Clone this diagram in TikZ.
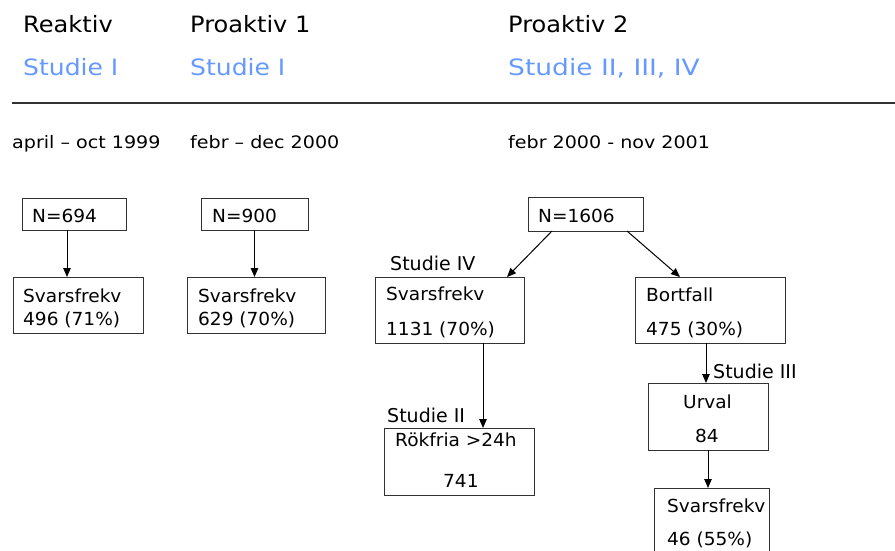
\documentclass[tikz,border=0pt]{standalone}
\usepackage{fontspec}
\usepackage{graphicx}
\setmainfont{DejaVu Sans}
\newfontfamily\stfont[FakeStretch=1.03]{DejaVu Sans}
\newfontfamily\hdfont[FakeStretch=1.07]{DejaVu Sans}
\newfontfamily\dtfont[FakeStretch=1.11]{DejaVu Sans}
\usetikzlibrary{arrows.meta,calc}
\definecolor{studblue}{RGB}{102,153,255}
\definecolor{linegray}{RGB}{50,50,50}
\begin{document}
\begin{tikzpicture}[x=1pt,y=-1pt,
  hdr/.style={anchor=base west,inner sep=0,font=\hdfont\fontsize{22.5}{26}\selectfont},
  hdrblue/.style={hdr,text=studblue},
  datetxt/.style={anchor=base west,inner sep=0,font=\dtfont\fontsize{17.2}{19}\selectfont},
  txt/.style={anchor=base west,inner sep=0,font=\stfont\fontsize{18}{20}\selectfont},
  lbl/.style={anchor=base west,inner sep=0,font=\fontsize{19}{21}\selectfont},
  box/.style={draw=linegray,line width=1pt,rectangle,inner sep=0,outer sep=0},
  arr/.style={draw=black,line width=1pt,-{Triangle[length=9pt,width=7.5pt]}}]
\useasboundingbox[fill=white] (0,0) rectangle (895,551);
% headers
\node[hdr] (h1) at (23,33) {Reaktiv};
\node[hdr] (h2) at (190,33) {Proaktiv 1};
\node[hdr] (h3) at (508,33) {Proaktiv 2};
\node[hdrblue] (b1) at (23,76) {\scalebox{1.04}[1]{Studie I}};
\node[hdrblue] (b2) at (190,76) {\scalebox{1.04}[1]{Studie I}};
\node[hdrblue] (b3) at (508,76) {\scalebox{1.1}[1]{Studie II, III, IV}};
\coordinate (ls) at (12,103);
\coordinate (le) at (895,103);
\draw[draw=linegray,line width=1.5pt] (ls) -- (le);
\node[datetxt] (d1) at (12,148) {april – oct 1999};
\node[datetxt] (d2) at (190,148) {febr – dec 2000};
\node[datetxt] (d3) at (508,148) {febr 2000 - nov 2001};
% Reaktiv
\node[box,minimum width=104pt,minimum height=32pt] (n694) at (74,214) {};
\node[txt] (tn694) at (32,222) {N=694};
\node[box,minimum width=130pt,minimum height=56pt] (s496) at (78,305) {};
\node[txt] (ts496a) at (23,302) {Svarsfrekv};
\node[txt] (ts496b) at (23,325) {496 (71\%)};
\coordinate (c496) at ([xshift=54pt]s496.north west);
\draw[arr] (n694.south -| c496) -- (c496);
% Proaktiv 1
\node[box,minimum width=107pt,minimum height=32pt] (n900) at (254.5,214) {};
\node[txt] (tn900) at (212,222) {N=900};
\node[box,minimum width=138pt,minimum height=56pt] (s629) at (256,305) {};
\node[txt] (ts629a) at (198,302) {Svarsfrekv};
\node[txt] (ts629b) at (198,325) {629 (70\%)};
\draw[arr] (n900.south) -- (n900.south |- s629.north);
% Proaktiv 2
\node[box,minimum width=115pt,minimum height=34pt] (n1606) at (585.5,214) {};
\node[txt] (tn1606) at (538,222) {N=1606};
\node[box,minimum width=149pt,minimum height=66pt] (s1131) at (449.5,310) {};
\node[txt] (ts1131a) at (386,300) {Svarsfrekv};
\node[txt] (ts1131b) at (386,335) {1131 (70\%)};
\node[lbl] (lIV) at (390,270) {Studie IV};
\node[box,minimum width=150pt,minimum height=66pt] (bort) at (710,310) {};
\node[txt] (tborta) at (646,301) {Bortfall};
\node[txt] (tbortb) at (646,335) {475 (30\%)};
\draw[arr] ([xshift=24pt]n1606.south west) -- ([xshift=132pt]s1131.north west);
\draw[arr] ([xshift=99pt]n1606.south west) -- ([xshift=45pt]bort.north west);
% Rokfria
\node[box,minimum width=150pt,minimum height=67pt] (rok) at (459,461.5) {};
\node[txt] (troka) at (395,446) {Rökfria >24h};
\node[txt] (trokb) at (443,487) {741};
\node[lbl] (lII) at (387,422) {Studie II};
\coordinate (crok) at ([xshift=99pt]rok.north west);
\draw[arr] (s1131.south -| crok) -- (crok);
% Urval
\node[box,minimum width=120pt,minimum height=67pt] (urval) at (708,416.5) {};
\node[txt] (turva) at (683,408) {Urval};
\node[txt] (turvb) at (695,442) {84};
\node[lbl] (lIII) at (713,378) {Studie III};
\coordinate (curv) at ([xshift=58pt]urval.north west);
\draw[arr] (bort.south -| curv) -- (curv);
% last
\node[box,minimum width=115pt,minimum height=70pt] (sv46) at (711.5,523) {};
\node[txt] (tsv46a) at (667,512) {Svarsfrekv};
\node[txt] (tsv46b) at (667,545) {46 (55\%)};
\draw[arr] (urval.south) -- (urval.south |- sv46.north);
\end{tikzpicture}
\end{document}
